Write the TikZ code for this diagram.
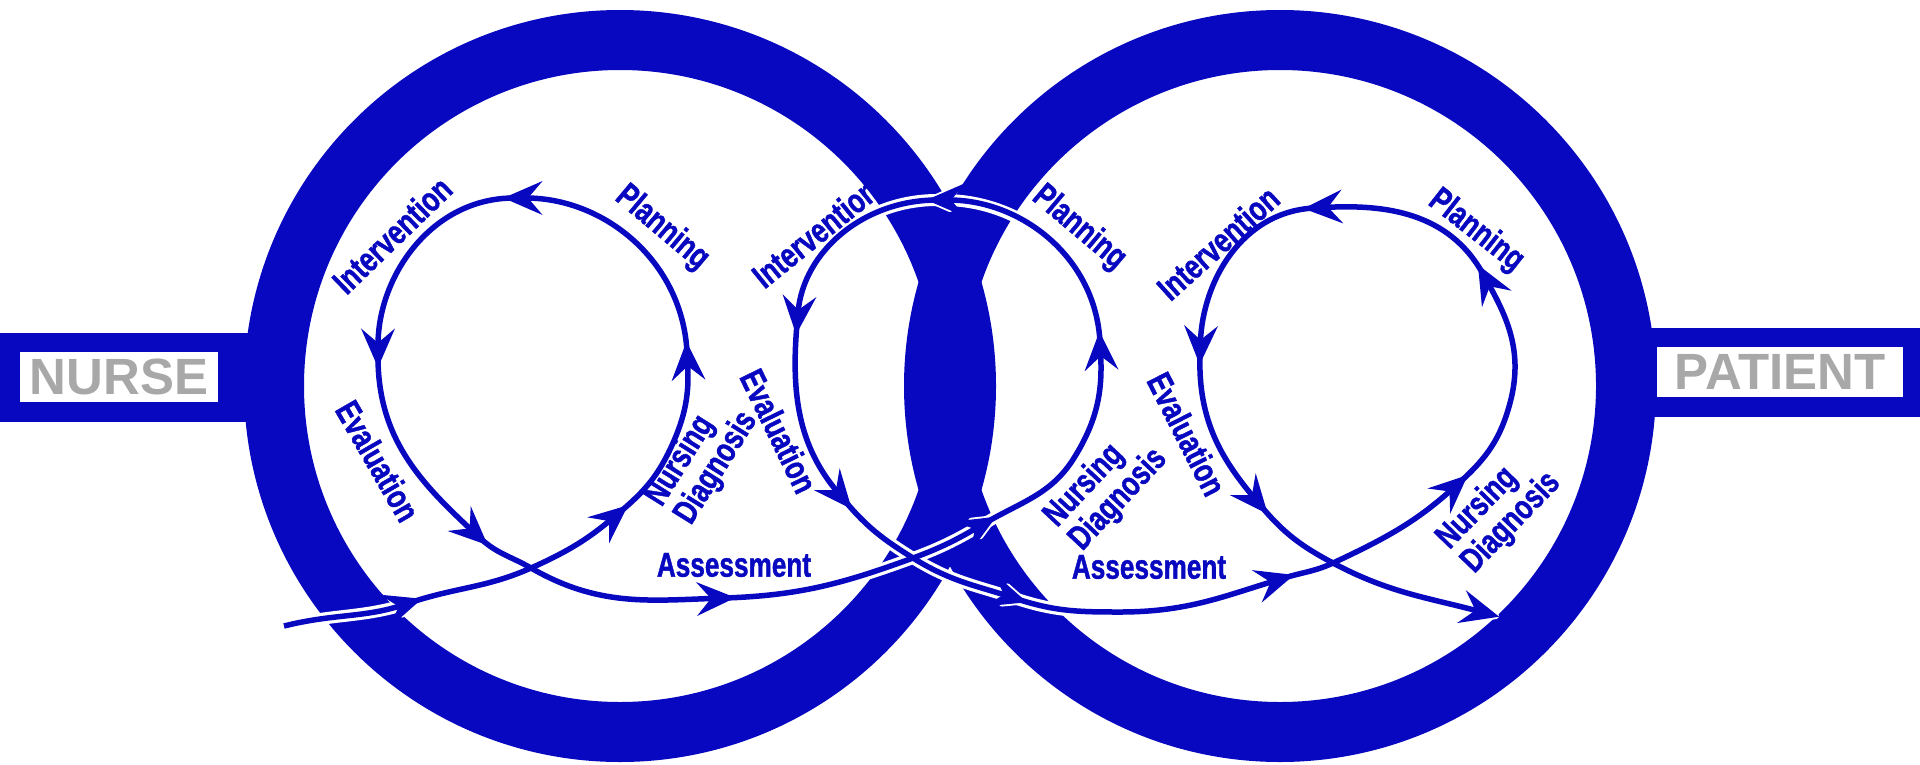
\documentclass[tikz,border=0pt]{standalone}
\usepackage{fontspec}
\setmainfont{Liberation Sans}
\newfontfamily\narrowsans[FakeStretch=0.76, FakeBold=1.2]{Liberation Sans}
\usetikzlibrary{arrows.meta}

\definecolor{ringblue}{RGB}{8,8,192}
\definecolor{namegray}{RGB}{168,168,168}

\tikzset{
    ring/.style={draw=ringblue, line width=0.6cm},
    bar/.style={fill=ringblue},
    namebox/.style={fill=white, text=namegray, inner sep=0pt, minimum height=0.5cm,
        font=\bfseries\fontsize{14.5}{14.5}\selectfont},
    phase/.style={text=ringblue, inner sep=0pt, align=left,
        font=\narrowsans\bfseries\fontsize{9.8}{9.8}\selectfont},
    casing/.style={draw=white, line width=0.12cm, line cap=round, shorten >=-3pt,
        -{Stealth[length=11pt, width=9.5pt, inset=4pt, round]}},
    flow/.style={draw=ringblue, line width=0.055cm, shorten >=-3pt,
        -{Stealth[length=11pt, width=9.5pt, inset=4pt]}},
}

\begin{document}
\begin{tikzpicture}
    \useasboundingbox (0,0) rectangle (19.2,7.64);
    \fill[white] (0,0) rectangle (19.2,7.64);

    \coordinate (lc) at (6.20,3.78);
    \coordinate (rc) at (12.80,3.78);

    \fill[bar] (0,3.42) rectangle (2.8,4.31);
    \fill[bar] (16.2,3.47) rectangle (19.2,4.36);
    \draw[ring] (lc) circle[radius=3.46];
    \draw[ring] (rc) circle[radius=3.46];

    \node[namebox, minimum width=1.98cm] (nurse) at (1.19,3.87) {NURSE};
    \node[namebox, minimum width=2.46cm] (patient) at (17.80,3.92) {PATIENT};

    % points along the flow, a = arrow tips, c = crossings, d = bends
    \coordinate (s0) at (2.84,1.38);
    \coordinate (a1) at (4.12,1.62);
    \coordinate (c1) at (5.31,1.96);
    \coordinate (a2) at (6.20,2.52);
    \coordinate (d1) at (6.73,3.21);
    \coordinate (a3) at (6.87,4.12);
    \coordinate (a4) at (5.14,5.66);
    \coordinate (a5) at (3.78,4.07);
    \coordinate (a6) at (4.80,2.26);
    \coordinate (a7) at (7.25,1.66);
    \coordinate (c2) at (9.13,2.06);
    \coordinate (a8) at (9.87,2.42);
    \coordinate (d2) at (10.74,3.06);
    \coordinate (a9) at (11.00,4.22);
    \coordinate (a10) at (9.37,5.64);
    \coordinate (a11) at (7.97,4.40);
    \coordinate (a12) at (8.45,2.63);
    \coordinate (a13) at (10.17,1.65);
    \coordinate (b1) at (11.20,1.52);
    \coordinate (a14) at (12.84,1.86);
    \coordinate (c3) at (13.33,2.01);
    \coordinate (a15) at (14.60,2.82);
    \coordinate (d3) at (15.10,3.61);
    \coordinate (a16) at (14.83,4.90);
    \coordinate (a17) at (13.14,5.56);
    \coordinate (a18) at (12.00,4.10);
    \coordinate (a19) at (12.61,2.58);
    \coordinate (a20) at (14.89,1.50);

    \foreach \pass in {casing,flow} {
        \draw[\pass] (s0) to[out=14,in=198] (a1);
        \draw[\pass] (a1) to[out=18,in=204] (c1) to[out=24,in=220] (a2);
        \draw[\pass] (a2) to[out=40,in=246] (d1) to[out=66,in=273] (a3);
        \draw[\pass] (a3) to[out=93,in=0] (a4);
        \draw[\pass] (a4) to[out=180,in=90] (a5);
        \draw[\pass] (a5) to[out=270,in=137] (a6);
        \draw[\pass] (a6) to[out=-43,in=150] (c1) to[out=-30,in=182] (a7);
        \draw[\pass] (a7) to[out=2,in=200] (c2) to[out=20,in=210] (a8);
        \draw[\pass] (a8) to[out=30,in=238] (d2) to[out=58,in=273] (a9);
        \draw[\pass] (a9) to[out=93,in=0] (a10);
        \draw[\pass] (a10) to[out=180,in=85] (a11);
        \draw[\pass] (a11) to[out=265,in=130] (a12);
        \draw[\pass] (a12) to[out=-50,in=148] (c2) to[out=-32,in=162] (a13);
        \draw[\pass] (a13) to[out=-18,in=180] (b1) to[out=0,in=197] (a14);
        \draw[\pass] (a14) to[out=17,in=205] (c3) to[out=25,in=222] (a15);
        \draw[\pass] (a15) to[out=42,in=255] (d3) to[out=75,in=-61] (a16);
        \draw[\pass] (a16) to[out=119,in=3] (a17);
        \draw[\pass] (a17) to[out=183,in=88] (a18);
        \draw[\pass] (a18) to[out=268,in=130] (a19);
        \draw[\pass] (a19) to[out=-50,in=152] (c3) to[out=-28,in=165] (a20);
    }

    \node[phase, rotate=44] (int1) at (3.92,5.29) {Intervention};
    \node[phase, rotate=-40] (plan1) at (6.62,5.36) {Planning};
    \node[phase, rotate=-60] (eval1) at (3.78,3.03) {Evaluation};
    \node[phase, rotate=58] (diag1) at (7.02,3.05) {Nursing\\Diagnosis};
    \node[phase] (assess1) at (7.34,1.99) {Assessment};

    \node[phase, rotate=39] (int2) at (8.15,5.31) {Intervention};
    \node[phase, rotate=-40] (plan2) at (10.79,5.36) {Planning};
    \node[phase, rotate=-64] (eval2) at (7.79,3.33) {Evaluation};
    \node[phase, rotate=47] (diag2) at (11.06,2.76) {Nursing\\Diagnosis};
    \node[phase] (assess2) at (11.49,1.97) {Assessment};

    \node[phase, rotate=42] (int3) at (12.18,5.21) {Intervention};
    \node[phase, rotate=-38] (plan3) at (14.76,5.33) {Planning};
    \node[phase, rotate=-63] (eval3) at (11.87,3.30) {Evaluation};
    \node[phase, rotate=46] (diag3) at (14.99,2.53) {Nursing\\Diagnosis};
\end{tikzpicture}
\end{document}
